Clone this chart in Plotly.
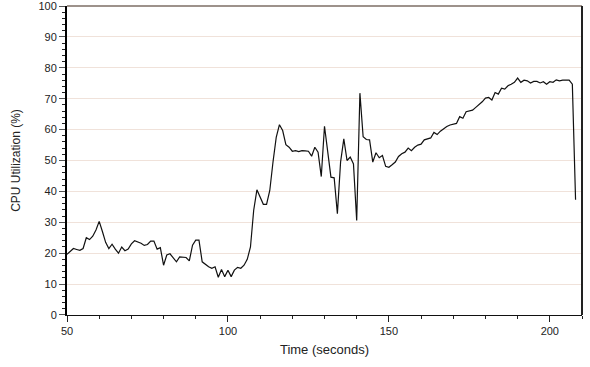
import plotly.graph_objects as go

# Sampled CPU utilisation, one reading per second
time_s = list(range(50, 209))
cpu_pct = [
    19.6, 20.5, 21.5, 21.2, 20.9, 21.5, 25.0, 24.4, 25.5, 27.5,
    30.3, 27.0, 23.5, 21.5, 22.9, 21.3, 20.0, 22.0, 20.8, 21.3,
    23.0, 24.0, 23.6, 23.2, 22.5, 22.8, 23.9, 23.9, 21.3, 21.8,
    16.1, 19.4, 19.8, 18.3, 17.2, 18.8, 18.8, 18.6, 17.5, 22.6,
    24.2, 24.2, 17.2, 16.3, 15.6, 15.1, 15.6, 12.2, 14.7, 12.4,
    14.5, 12.4, 14.5, 15.4, 15.1, 16.1, 18.0, 22.0, 33.9, 40.5,
    38.2, 35.8, 35.8, 40.3, 49.5, 57.5, 61.6, 59.7, 55.1, 54.3,
    53.0, 53.2, 52.9, 53.2, 53.1, 53.0, 51.4, 54.3, 52.7, 44.8,
    61.1, 52.2, 44.6, 44.4, 32.8, 49.5, 57.0, 50.0, 51.1, 48.9,
    30.6, 71.8, 57.7, 56.8, 56.7, 49.5, 52.5, 50.9, 51.6, 48.1,
    47.8, 48.6, 49.5, 51.3, 52.2, 52.7, 54.0, 53.2, 54.3, 55.0,
    55.3, 56.7, 56.9, 57.3, 59.1, 58.4, 59.5, 60.4, 61.0, 61.5,
    61.8, 62.0, 64.2, 63.7, 65.8, 66.0, 66.3, 67.2, 68.0, 69.0,
    70.2, 70.4, 69.6, 72.0, 71.5, 73.4, 73.1, 74.2, 74.7, 75.3,
    76.7, 75.3, 76.0, 75.8, 75.1, 75.6, 75.6, 75.1, 75.5, 74.7,
    75.5, 75.3, 76.1, 75.8, 76.0, 76.0, 76.0, 74.7, 37.3,
]

x_ticks = [50, 100, 150, 200]
y_ticks = list(range(0, 101, 10))

FONT = "Liberation Sans, Arial, Helvetica, sans-serif"
TEXT = "#222222"

fig = go.Figure()
fig.add_trace(go.Scatter(
    x=time_s, y=cpu_pct, mode="lines",
    line=dict(color="#111111", width=1.2),
    showlegend=False, hoverinfo="x+y",
))

fig.update_layout(
    width=590, height=367,
    margin=dict(l=67, r=8, t=6, b=52),
    paper_bgcolor="white", plot_bgcolor="white",
    font=dict(family=FONT, size=11, color=TEXT),
    xaxis=dict(
        range=[50, 210], tickvals=x_ticks, ticks="outside", ticklen=6,
        tickcolor=TEXT, tickfont=dict(color=TEXT, size=11),
        showline=True, linecolor="#111111", linewidth=1,
        showgrid=False, zeroline=False, automargin="bottom",
        minor=dict(dtick=10, tick0=50, ticks="outside", ticklen=3, tickcolor=TEXT),
        title=dict(text="Time (seconds)", font=dict(size=13, family=FONT, color=TEXT), standoff=8),
    ),
    yaxis=dict(
        range=[-0.02, 100.02], tickvals=y_ticks, ticks="outside", ticklen=6,
        tickcolor="#555555", tickfont=dict(color=TEXT, size=11),
        ticklabeloverflow="allow", automargin="left",
        showline=True, linecolor="#000000", linewidth=2,
        showgrid=True, gridcolor="#f0e2da", gridwidth=1, zeroline=False,
        minor=dict(dtick=2, tick0=0, ticks="outside", ticklen=3, tickcolor=TEXT, showgrid=False),
        title=dict(text="CPU Utilization (%)", font=dict(size=12, family=FONT, color=TEXT), standoff=15),
    ),
    shapes=[
        # frame: grey top edge, dark right edge
        dict(type="line", xref="paper", yref="paper", x0=0, x1=1, y0=1, y1=1,
             line=dict(color="#9d928b", width=2)),
        dict(type="line", xref="paper", yref="paper", x0=1, x1=1, y0=0, y1=1,
             line=dict(color="#222222", width=2)),
    ],
)

fig.write_html("out.html")
